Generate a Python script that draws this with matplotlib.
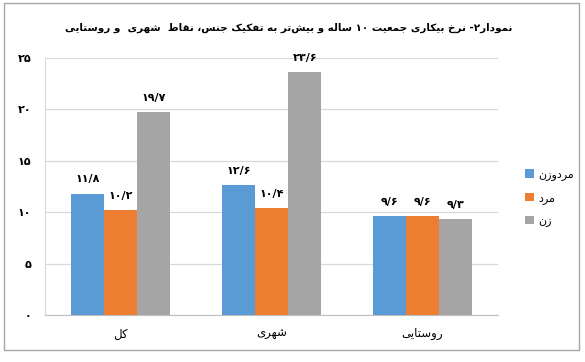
import re
import numpy as np
import matplotlib.pyplot as plt
from matplotlib.patches import Rectangle

# data
categories = ["کل", "شهری", "روستایی"]
series_names = ["مردوزن", "مرد", "زن"]
both = [11.8, 12.6, 9.6]
men = [10.2, 10.4, 9.6]
women = [19.7, 23.6, 9.3]
yticks = [0, 5, 10, 15, 20, 25]
title = "نمودار۲- نرخ بیکاری جمعیت ۱۰ ساله و بیش\u200cتر به تفکیک جنس، نقاط  شهری  و روستایی"

colors = ["#5b9bd5", "#ed7d31", "#a5a5a5"]

# arabic/persian letter forms: isolated, final, initial, medial
FORMS = {
    "ا": (0xFE8D, 0xFE8E), "د": (0xFEA9, 0xFEAA), "ر": (0xFEAD, 0xFEAE),
    "ز": (0xFEAF, 0xFEB0), "و": (0xFEED, 0xFEEE),
    "ب": (0xFE8F, 0xFE90, 0xFE91, 0xFE92), "ت": (0xFE95, 0xFE96, 0xFE97, 0xFE98),
    "ج": (0xFE9D, 0xFE9E, 0xFE9F, 0xFEA0), "خ": (0xFEA5, 0xFEA6, 0xFEA7, 0xFEA8),
    "س": (0xFEB1, 0xFEB2, 0xFEB3, 0xFEB4), "ش": (0xFEB5, 0xFEB6, 0xFEB7, 0xFEB8),
    "ط": (0xFEC1, 0xFEC2, 0xFEC3, 0xFEC4), "ع": (0xFEC9, 0xFECA, 0xFECB, 0xFECC),
    "ف": (0xFED1, 0xFED2, 0xFED3, 0xFED4), "ق": (0xFED5, 0xFED6, 0xFED7, 0xFED8),
    "ل": (0xFEDD, 0xFEDE, 0xFEDF, 0xFEE0), "م": (0xFEE1, 0xFEE2, 0xFEE3, 0xFEE4),
    "ن": (0xFEE5, 0xFEE6, 0xFEE7, 0xFEE8), "ه": (0xFEE9, 0xFEEA, 0xFEEB, 0xFEEC),
    "ک": (0xFB8E, 0xFB8F, 0xFB90, 0xFB91), "ی": (0xFBFC, 0xFBFD, 0xFBFE, 0xFBFF),
}

def fa(s):
    # shape letters then put them in visual order (digit runs stay LTR)
    out = []
    for i, ch in enumerate(s):
        f = FORMS.get(ch)
        if f is None:
            out.append(ch)
            continue
        prev = FORMS.get(s[i - 1]) if i > 0 else None
        nxt = FORMS.get(s[i + 1]) if i + 1 < len(s) else None
        jp = prev is not None and len(prev) == 4
        jn = len(f) == 4 and nxt is not None
        if jp and jn:
            out.append(chr(f[3]))
        elif jp:
            out.append(chr(f[1]))
        elif jn:
            out.append(chr(f[2]))
        else:
            out.append(chr(f[0]))
    shaped = "".join(out).replace("\u200c", "")
    tokens = re.findall(r"[۰-۹/]+|[^۰-۹/]", shaped)
    return "".join(reversed(tokens))

def fa_num(v):
    return str(v).replace(".", "/").translate(str.maketrans("0123456789", "۰۱۲۳۴۵۶۷۸۹"))

plt.rcParams["font.family"] = ["DejaVu Sans"]

fig = plt.figure(figsize=(5.85, 3.62), dpi=100)
ax = fig.add_axes([0.077, 0.130, 0.774, 0.710])

x = np.arange(len(categories))
w = 0.22
for k, vals in enumerate([both, men, women]):
    bars = ax.bar(x + (k - 1) * w, vals, w, color=colors[k], label=fa(series_names[k]), zorder=3)
    for b, v in zip(bars, vals):
        ax.text(b.get_x() + b.get_width() / 2, v + 0.9, fa_num(v), ha="center", va="bottom",
                fontsize=8, fontweight="bold")

ax.set_xlim(-0.5, 2.5)
ax.set_ylim(0, 25)
ax.set_yticks(yticks)
ax.set_yticklabels([fa_num(t) for t in yticks], fontsize=8, fontweight="bold")
ax.set_xticks(x)
ax.set_xticklabels([fa(c) for c in categories], fontsize=8.5)
ax.tick_params(length=0)
ax.tick_params(axis="y", pad=10)
ax.tick_params(axis="x", pad=9)
ax.grid(axis="y", color="#d9d9d9", linewidth=0.9, zorder=0)
for side in ["top", "right"]:
    ax.spines[side].set_visible(False)
ax.spines["left"].set_color("#d9d9d9")
ax.spines["bottom"].set_color("#bfbfbf")

fig.text(0.493, 0.923, fa(title), ha="center", va="center", fontsize=7.5, fontweight="bold")

fig.legend(loc="upper left", bbox_to_anchor=(0.88, 0.56), frameon=False, fontsize=8,
           handlelength=0.8, handleheight=0.8, handletextpad=0.4, labelspacing=1.1)

fig.patches.append(Rectangle((0.006, 0.033), 0.984, 0.958, transform=fig.transFigure,
                             fill=False, edgecolor="#a6a6a6", linewidth=1))

fig.savefig("out.png", dpi=100)
